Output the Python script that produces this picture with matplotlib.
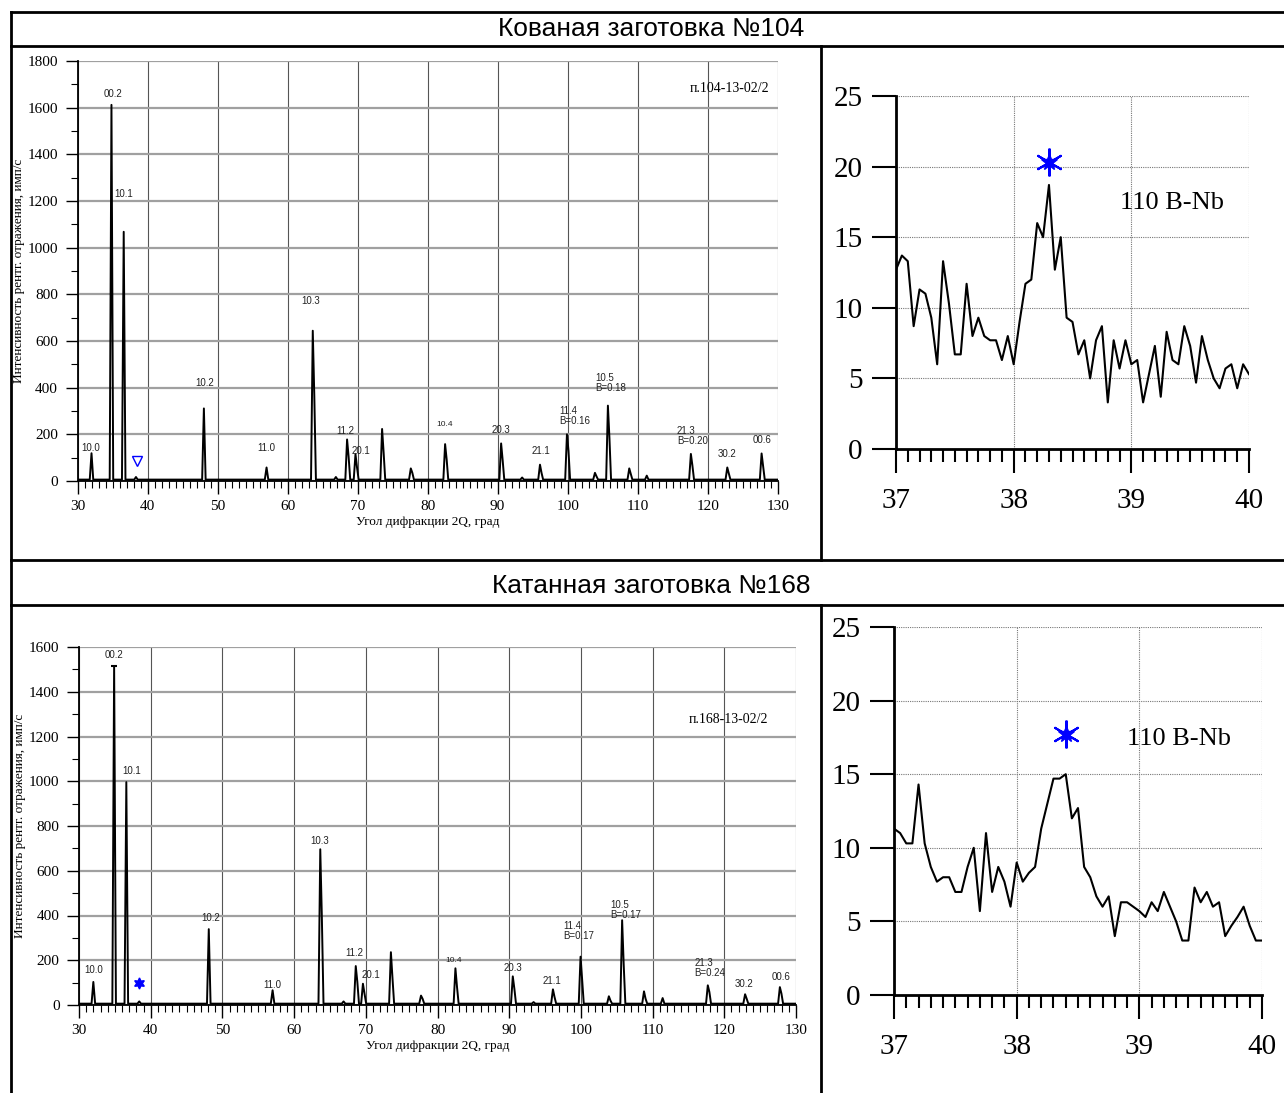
import matplotlib
matplotlib.use("Agg")
import matplotlib.pyplot as plt
from matplotlib.lines import Line2D
from matplotlib.ticker import MultipleLocator

plt.rcParams['font.family'] = ['Liberation Serif', 'DejaVu Serif']

# ---- data: forged billet No104 (full pattern) ----
forged_peak_x = [32.0, 34.85, 36.6, 38.35, 48.05, 57.0, 63.6, 66.9, 68.5, 69.7, 73.5, 77.6,
                 82.5, 90.5, 93.5, 96.05, 99.9, 103.9, 105.75, 108.8, 111.3, 117.6, 122.8, 127.7]
forged_peak_h = [119, 1612, 1068, 17, 311, 58, 644, 17, 178, 115, 223, 54,
                 158, 161, 15, 70, 200, 35, 323, 54, 23, 116, 58, 118]
forged_peak_s = [0, 0, 0, 0, 0, 0, 364, 0, 104, 58, 122, 35,
                 93, 89, 0, 35, 130, 20, 184, 30, 0, 66, 32, 63]

forged_labels = ['10.0', '00.2', '10.1', '10.2', '11.0', '10.3', '11.2', '20.1', '10.4',
                 '20.3', '21.1', '11.4\nB=0.16', '10.5\nB=0.18', '21.3\nB=0.20', '30.2', '00.6']
forged_label_x = [31.9, 35.1, 36.6, 48.1, 56.9, 63.3, 68.3, 70.5, 82.4,
                  90.5, 96.2, 98.8, 104.0, 115.6, 122.8, 127.8]
forged_label_y = [141, 1659, 1230, 420, 141, 771, 214, 129, 240,
                  219, 129, 279, 420, 193, 116, 176]

# ---- data: rolled billet No168 (full pattern) ----
rolled_peak_x = [32.0, 34.9, 36.6, 38.4, 48.1, 57.0, 63.65, 66.9, 68.6, 69.6, 73.5, 77.7,
                 82.5, 90.5, 93.4, 96.1, 99.95, 103.9, 105.75, 108.8, 111.4, 117.7, 122.9, 127.75]
rolled_peak_h = [103, 1515, 996, 16, 339, 66, 696, 16, 174, 95, 236, 42,
                 164, 128, 13, 70, 216, 39, 379, 61, 31, 88, 48, 80]
rolled_peak_s = [0, 0, 0, 0, 0, 0, 394, 0, 103, 51, 121, 28,
                 81, 73, 0, 36, 115, 20, 180, 28, 0, 58, 28, 51]

rolled_labels = ['10.0', '00.2', '10.1', '10.2', '11.0', '10.3', '11.2', '20.1', '10.4',
                 '20.3', '21.1', '11.4\nB=0.17', '10.5\nB=0.17', '21.3\nB=0.24', '30.2', '00.6']
rolled_label_x = [32.1, 34.9, 37.4, 48.3, 56.9, 63.5, 68.4, 70.7, 82.2,
                  90.5, 96.0, 97.5, 104.1, 115.8, 122.7, 127.9]
rolled_label_y = [156, 1564, 1046, 389, 89, 733, 232, 134, 201,
                  165, 107, 331, 425, 165, 94, 125]

# ---- data: zoomed 37..40 region, step 0.05 ----
zoom_x = [37 + 0.05 * i for i in range(61)]
forged_zoom = [12.7, 13.7, 13.3, 8.7, 11.3, 11.0, 9.3, 6.0, 13.3, 10.3,
               6.7, 6.7, 11.7, 8.0, 9.3, 8.0, 7.7, 7.7, 6.3, 8.0,
               6.0, 9.0, 11.7, 12.0, 16.0, 15.0, 18.7, 12.7, 15.0, 9.3,
               9.0, 6.7, 7.7, 5.0, 7.7, 8.7, 3.3, 7.7, 5.7, 7.7,
               6.0, 6.3, 3.3, 5.3, 7.3, 3.7, 8.3, 6.3, 6.0, 8.7,
               7.3, 4.7, 8.0, 6.3, 5.0, 4.3, 5.7, 6.0, 4.3, 6.0, 5.3]
rolled_zoom = [11.3, 11.0, 10.3, 10.3, 14.3, 10.3, 8.7, 7.7, 8.0, 8.0,
               7.0, 7.0, 8.7, 10.0, 5.7, 11.0, 7.0, 8.7, 7.7, 6.0,
               9.0, 7.7, 8.3, 8.7, 11.3, 13.0, 14.7, 14.7, 15.0, 12.0,
               12.7, 8.7, 8.0, 6.7, 6.0, 6.7, 4.0, 6.3, 6.3, 6.0,
               5.7, 5.3, 6.3, 5.7, 7.0, 6.0, 5.0, 3.7, 3.7, 7.3,
               6.3, 7.0, 6.0, 6.3, 4.0, 4.7, 5.3, 6.0, 4.7, 3.7, 3.7]

BASE = 6


def pattern_line(px, ph, ps):
    xs, ys = [30.0], [BASE]
    for x, h, s in zip(px, ph, ps):
        xs += [x - 0.25, x]
        ys += [BASE, h]
        if s:
            xs += [x + 0.22, x + 0.45]
            ys += [s, BASE]
        else:
            xs += [x + 0.25]
            ys += [BASE]
    xs.append(130.0)
    ys.append(BASE)
    return xs, ys


def draw_full(ax, px, ph, ps, labels, lx, ly, ymax, sample, sample_xy, marker):
    xs, ys = pattern_line(px, ph, ps)
    ax.plot(xs, ys, color='black', lw=1.4, zorder=3)
    ax.set_xlim(30, 130)
    ax.set_ylim(0, ymax)
    ax.xaxis.set_major_locator(MultipleLocator(10))
    ax.xaxis.set_minor_locator(MultipleLocator(1))
    ax.yaxis.set_major_locator(MultipleLocator(200))
    ax.yaxis.set_minor_locator(MultipleLocator(100))
    ax.tick_params(which='major', direction='out', length=9, width=1, labelsize=11, pad=5)
    ax.tick_params(which='minor', direction='out', length=5, width=0.8)
    ax.grid(axis='x', which='major', color='#555555', lw=0.8)
    ax.grid(axis='y', which='major', color='#a0a0a0', lw=1.6)
    ax.set_axisbelow(True)
    for sp in ['top', 'right']:
        ax.spines[sp].set_visible(False)
    for sp in ['left', 'bottom']:
        ax.spines[sp].set_linewidth(1.3)
    for t, x, y in zip(labels, lx, ly):
        fs = 6 if t == '10.4' else 7
        ha = 'left' if '\n' in t else 'center'
        ax.text(x, y, t, fontsize=fs, ha=ha, va='center', color='#222222',
                family=['Liberation Sans', 'DejaVu Sans'], linespacing=1.1, zorder=4)
    ax.text(sample_xy[0], sample_xy[1], sample, fontsize=10, ha='right', va='center')
    ax.set_xlabel('Угол дифракции 2Q, град', fontsize=9.5, labelpad=2)
    ax.set_ylabel('Интенсивность рентг. отражения, имп/с', fontsize=9.5, labelpad=2)
    mx, my, mk, msz, mfc = marker
    ax.plot([mx], [my], marker=mk, ms=msz, mfc=mfc, mec='blue', mew=1, ls='none', zorder=5)


def draw_zoom(ax, ys, star_xy):
    ax.plot(zoom_x, ys, color='black', lw=1.5, zorder=3)
    ax.plot([star_xy[0]], [star_xy[1]], marker=(6, 2, 0), ms=20, color='blue', mew=1.5, zorder=4)
    ax.plot([star_xy[0]], [star_xy[1]], marker='*', ms=12, color='blue', zorder=4)
    ax.text(38.9, 17.4, '110 B-Nb', fontsize=19, ha='left', va='center')
    ax.set_xlim(37, 40)
    ax.set_ylim(0, 25)
    ax.set_xticks([37, 38, 39, 40])
    ax.xaxis.set_minor_locator(MultipleLocator(0.1))
    ax.set_yticks([0, 5, 10, 15, 20, 25])
    ax.tick_params(which='major', direction='out', length=17, width=1.5, labelsize=21)
    ax.tick_params(axis='x', which='major', pad=11)
    ax.tick_params(axis='y', which='major', pad=7)
    ax.tick_params(which='minor', direction='out', length=9, width=1.5)
    ax.grid(which='major', color='#777777', lw=0.8, ls=(0, (1, 1)))
    ax.set_axisbelow(True)
    for sp in ['top', 'right']:
        ax.spines[sp].set_visible(False)
    for sp in ['left', 'bottom']:
        ax.spines[sp].set_linewidth(2)


W, H = 1284, 1093
fig = plt.figure(figsize=(W / 100, H / 100), dpi=100)


def box(l, t, r, b):
    return [l / W, 1 - b / H, (r - l) / W, (b - t) / H]


ax1 = fig.add_axes(box(77.5, 61, 777.7, 481))
draw_full(ax1, forged_peak_x, forged_peak_h, forged_peak_s,
          forged_labels, forged_label_x, forged_label_y, 1800,
          'п.104-13-02/2', (128.8, 1684), (38.5, 86, 'v', 7, 'none'))

ax2 = fig.add_axes(box(896, 96, 1249, 449))
draw_zoom(ax2, forged_zoom, (38.30, 20.3))

ax3 = fig.add_axes(box(79, 647, 796, 1005))
draw_full(ax3, rolled_peak_x, rolled_peak_h, rolled_peak_s,
          rolled_labels, rolled_label_x, rolled_label_y, 1600,
          'п.168-13-02/2', (126.1, 1274), (38.4, 98, (6, 1, 0), 8, 'blue'))
# small cap on top of the clipped 00.2 peak
ax3.plot([rolled_peak_x[1]], [rolled_peak_h[1]], marker='_', ms=5, mew=1.5, color='black', zorder=4)

ax4 = fig.add_axes(box(894, 627, 1262, 995))
draw_zoom(ax4, rolled_zoom, (38.40, 17.7))


# table frame
def hline(y, x0=11, x1=W):
    fig.add_artist(Line2D([x0 / W, x1 / W], [1 - y / H, 1 - y / H], color='black', lw=2))


def vline(x, y0, y1):
    fig.add_artist(Line2D([x / W, x / W], [1 - y0 / H, 1 - y1 / H], color='black', lw=2))


for y in [12, 46, 560, 605]:
    hline(y)
vline(11, 12, H)
vline(821, 46, 560)
vline(821, 605, H)

fig.text(651 / W, 1 - 29 / H, 'Кованая заготовка №104', fontsize=19, ha='center', va='center',
         family=['Liberation Sans', 'DejaVu Sans'])
fig.text(651 / W, 1 - 586 / H, 'Катанная заготовка №168', fontsize=19, ha='center', va='center',
         family=['Liberation Sans', 'DejaVu Sans'])

fig.savefig('out.png', dpi=100)
